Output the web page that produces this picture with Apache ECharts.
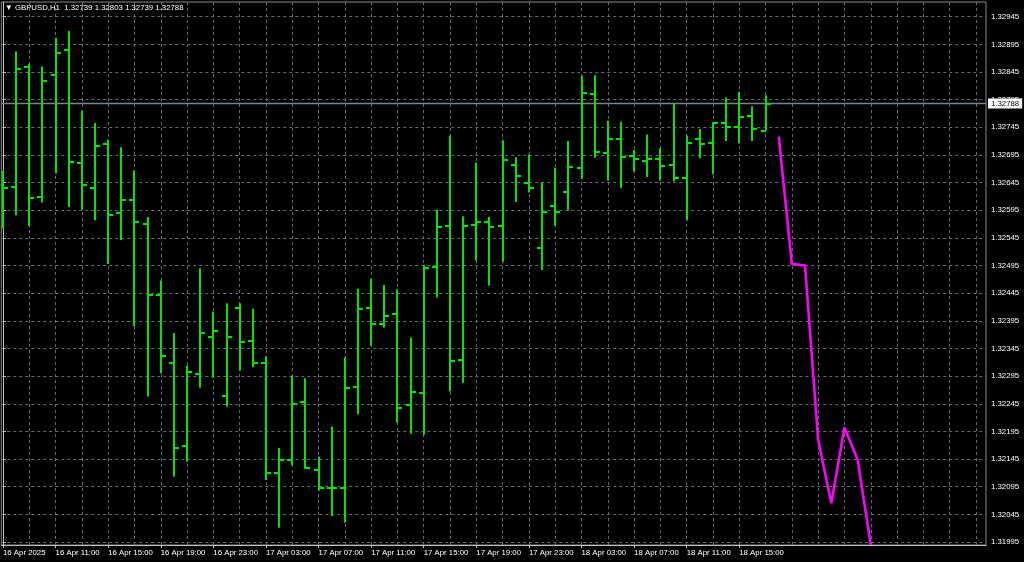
<!DOCTYPE html>
<html>
<head>
<meta charset="utf-8">
<script src="https://cdn.jsdelivr.net/npm/echarts@6/dist/echarts.min.js"></script>
<style>
html,body{margin:0;padding:0;background:#000;}
#chart{width:1024px;height:562px;}
</style>
</head>
<body>
<div id="chart"></div>
<script>
// ---- data ----
const symbolName = 'GBPUSD,H1';
const barOpen  = [1.32640,1.32637,1.32854,1.32619,1.32839,1.32885,1.32681,1.32635,1.32714,1.32590,
                  1.32613,1.32571,1.32441,1.32318,1.32168,1.32299,1.32366,1.32259,1.32419,1.32358,
                  1.32319,1.32120,1.32144,1.32248,1.32126,1.32093,1.32093,1.32275,1.32419,1.32390,
                  1.32407,1.32242,1.32265,1.32493,1.32566,1.32324,1.32568,1.32574,1.32566,1.32676,
                  1.32645,1.32526,1.32602,1.32628,1.32671,1.32805,1.32698,1.32723,1.32693,1.32684,
                  1.32687,1.32677,1.32654,1.32723,1.32716,1.32753,1.32745,1.32765,1.32739];
const barHigh  = [1.32666,1.32882,1.32860,1.32855,1.32907,1.32919,1.32775,1.32753,1.32723,1.32709,
                  1.32667,1.32583,1.32468,1.32373,1.32314,1.32490,1.32412,1.32427,1.32427,1.32417,
                  1.32331,1.32165,1.32296,1.32291,1.32149,1.32204,1.32329,1.32453,1.32471,1.32460,
                  1.32452,1.32365,1.32496,1.32596,1.32730,1.32584,1.32681,1.32583,1.32721,1.32691,
                  1.32696,1.32646,1.32672,1.32720,1.32838,1.32839,1.32757,1.32755,1.32704,1.32732,
                  1.32707,1.32789,1.32730,1.32742,1.32754,1.32799,1.32809,1.32783,1.32803];
const barLow   = [1.32562,1.32586,1.32566,1.32609,1.32662,1.32601,1.32596,1.32577,1.32498,1.32541,
                  1.32385,1.32258,1.32300,1.32113,1.32140,1.32274,1.32292,1.32240,1.32305,1.32311,
                  1.32107,1.32021,1.32134,1.32127,1.32088,1.32042,1.32030,1.32226,1.32350,1.32383,
                  1.32211,1.32191,1.32189,1.32437,1.32267,1.32283,1.32504,1.32459,1.32502,1.32610,
                  1.32627,1.32487,1.32567,1.32595,1.32652,1.32690,1.32649,1.32635,1.32665,1.32655,
                  1.32649,1.32647,1.32577,1.32689,1.32660,1.32720,1.32716,1.32720,1.32739];
const barClose = [1.32635,1.32851,1.32617,1.32829,1.32880,1.32682,1.32641,1.32712,1.32587,1.32613,
                  1.32573,1.32442,1.32331,1.32165,1.32302,1.32373,1.32376,1.32366,1.32356,1.32319,
                  1.32120,1.32143,1.32245,1.32128,1.32092,1.32092,1.32274,1.32417,1.32390,1.32403,
                  1.32238,1.32266,1.32491,1.32565,1.32323,1.32566,1.32573,1.32565,1.32686,1.32657,
                  1.32636,1.32592,1.32591,1.32674,1.32807,1.32701,1.32723,1.32691,1.32687,1.32688,
                  1.32675,1.32654,1.32717,1.32714,1.32752,1.32745,1.32764,1.32742,1.32788];
// forecast path (magenta), one point per hour after the last bar
const forecastValues = [1.32728,1.32498,1.32495,1.32180,1.32065,1.32202,1.32144,1.31990];
const currentPrice = 1.32788;
// time axis labels (every 4 hours from the first bar)
const timeLabels = ['16 Apr 2025','16 Apr 11:00','16 Apr 15:00','16 Apr 19:00','16 Apr 23:00',
                    '17 Apr 03:00','17 Apr 07:00','17 Apr 11:00','17 Apr 15:00','17 Apr 19:00',
                    '17 Apr 23:00','18 Apr 03:00','18 Apr 07:00','18 Apr 11:00','18 Apr 15:00'];
const priceTicks = [1.31995,1.32045,1.32095,1.32145,1.32195,1.32245,1.32295,1.32345,1.32395,1.32445,
                    1.32495,1.32545,1.32595,1.32645,1.32695,1.32745,1.32795,1.32845,1.32895,1.32945];

// ---- build ----
const FONT = '"Liberation Sans", Arial, sans-serif';
const GREEN = '#00e600';
const GRIDCOL = '#5f6b77';
const X_MIN = -0.129, X_MAX = 74.765;
const ohlc = barOpen.map((o, i) => [i, o, barHigh[i], barLow[i], barClose[i]]);
const nBars = barOpen.length;
const forecast = forecastValues.map((v, k) => [nBars + k, v]);
const labelIdx = timeLabels.map((_, k) => k * 4);
const gridIdx = [];
for (let k = 0; k <= 74; k += 2) gridIdx.push(k);
const last = nBars - 1;
const header = '\u25BC ' + symbolName + '  ' + [barOpen[last], barHigh[last], barLow[last], barClose[last]].map(v => v.toFixed(5)).join(' ');

const chart = echarts.init(document.getElementById('chart'), null, {renderer: 'canvas'});
chart.setOption({
  animation: false,
  backgroundColor: '#000000',
  title: {
    text: header, left: 5, top: 4, padding: 0,
    textStyle: {color: '#ffffff', fontSize: 7.8, fontWeight: 'normal', fontFamily: FONT}
  },
  grid: {left: 1, right: 38, top: 2, bottom: 17, show: true, borderColor: '#8a8a8a', borderWidth: 1, backgroundColor: 'transparent'},
  xAxis: [{
    type: 'value', min: X_MIN, max: X_MAX,
    axisLine: {show: true, lineStyle: {color: '#c0c0c0', width: 1}},
    axisTick: {show: false, customValues: gridIdx},
    axisLabel: {
      show: true, customValues: labelIdx, align: 'left', margin: 4,
      color: '#ffffff', fontSize: 7.8, fontFamily: FONT,
      formatter: v => timeLabels[Math.round(v / 4)] || ''
    },
    splitLine: {show: true, lineStyle: {color: GRIDCOL, width: 1, type: [3, 3]}}
  }, {
    type: 'value', min: X_MIN, max: X_MAX, position: 'bottom',
    axisLine: {show: false}, axisLabel: {show: false}, splitLine: {show: false},
    axisTick: {show: true, length: 3, customValues: labelIdx, lineStyle: {color: '#c0c0c0'}}
  }],
  yAxis: {
    type: 'value', position: 'right', min: 1.319896, max: 1.329716, scale: true,
    axisLine: {show: true, lineStyle: {color: '#c0c0c0', width: 1}},
    axisTick: {show: true, length: 3, customValues: priceTicks, lineStyle: {color: '#c0c0c0'}},
    axisLabel: {
      show: true, customValues: priceTicks, margin: 5,
      color: '#ffffff', fontSize: 7.8, fontFamily: FONT,
      formatter: v => v.toFixed(5)
    },
    splitLine: {show: true, lineStyle: {color: GRIDCOL, width: 1, type: [3, 3]}}
  },
  series: [{
    type: 'line',
    name: 'price',
    data: [[X_MIN, currentPrice], [X_MAX, currentPrice]],
    symbol: 'none',
    silent: true,
    z: 1,
    lineStyle: {color: '#7a8591', width: 1.5},
    endLabel: {
      show: true, distance: 2,
      formatter: () => currentPrice.toFixed(5),
      backgroundColor: '#ffffff', color: '#000000',
      fontSize: 7.8, fontFamily: FONT, padding: [1, 3, 1, 3], lineHeight: 8
    }
  }, {
    type: 'custom',
    name: 'bars',
    clip: true,
    z: 3,
    data: ohlc,
    encode: {x: 0, y: [1, 2, 3, 4]},
    renderItem: function (params, api) {
      const i = api.value(0);
      const o = api.coord([i, api.value(1)]);
      const h = api.coord([i, api.value(2)]);
      const l = api.coord([i, api.value(3)]);
      const c = api.coord([i, api.value(4)]);
      const x = Math.round(o[0]);
      const st = {stroke: GREEN, lineWidth: 2};
      return {
        type: 'group',
        children: [
          {type: 'line', shape: {x1: x, y1: h[1], x2: x, y2: l[1]}, style: st},
          {type: 'line', shape: {x1: x - 5, y1: Math.round(o[1]), x2: x, y2: Math.round(o[1])}, style: st},
          {type: 'line', shape: {x1: x, y1: Math.round(c[1]), x2: x + 5, y2: Math.round(c[1])}, style: st}
        ]
      };
    }
  }, {
    type: 'line',
    name: 'forecast',
    data: forecast,
    clip: true,
    z: 3,
    symbol: 'none',
    lineStyle: {color: '#ff00ff', width: 2.6}
  }]
});
</script>
</body>
</html>
